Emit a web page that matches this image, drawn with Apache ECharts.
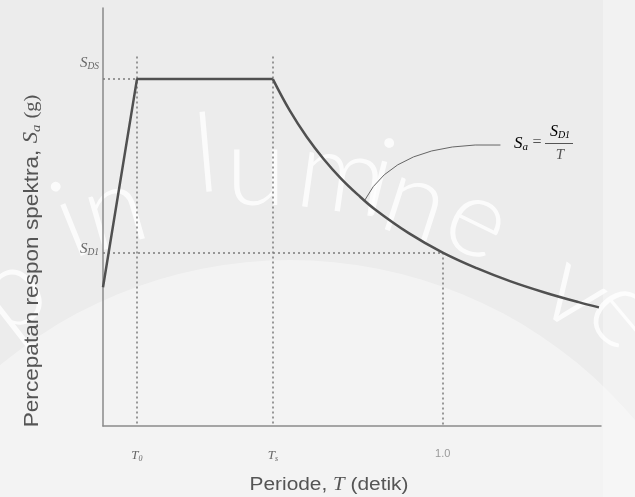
<!DOCTYPE html>
<html><head><meta charset="utf-8">
<script src="https://cdn.jsdelivr.net/npm/echarts@6/dist/echarts.min.js"></script>
<style>html,body{margin:0;padding:0;background:#ededed}#c{width:635px;height:497px}</style>
</head><body><div id="c"></div>
<script>
// ---- data ----
const rampT   = [0, 0.1, 0.5];
const rampSa  = [0.4, 1.0, 1.0];
const decayT  = [0.5, 0.55, 0.6, 0.65, 0.7, 0.75, 0.8, 0.9, 1.0, 1.1, 1.2, 1.3, 1.4, 1.46];
const decaySa = [1.0, 0.909, 0.833, 0.769, 0.714, 0.667, 0.625, 0.556, 0.5, 0.455, 0.417, 0.385, 0.357, 0.342];
const xTickValues = [0.1, 0.5, 1.0];
const xTickLabels = ['{t|T}{s|0}', '{t|T}{s|s}', '{n|1.0}'];
const yTickValues = [0.5, 1.0];
const yTickLabels = ['{S|S}{d|D1}\n{g1| }', '{S|S}{d|DS}\n{g2| }'];
const SDS = 1.0, SD1 = 0.5, T0 = 0.1, Ts = 0.5, T1 = 1.0;
const guideTop = 1.065;
const leaderFrom = [0.77, 0.65];
const leaderTo = [1.17, 0.81];
// watermark letters (decoration)
const wmLetters = ['p', 'i', 'n', 'l', 'u', 'm', 'i', 'n', 'e', 'v', 'e'];
const wmX   = [10, 70, 114, 206, 256, 342, 380, 416, 478, 576, 626];
const wmY   = [292, 222, 210, 156, 170, 176, 180, 202, 220, 292, 312];
const wmRot = [38, 22, 16, 5, 0, -8, -14, -18, -26, -36, -50];

const chart = echarts.init(document.getElementById('c'), null, {renderer:'canvas'});
const grey = '#505050';
const zip = (a, b) => a.map((v, i) => [v, b[i]]);
const serif = '"Liberation Serif", "DejaVu Serif", serif';

chart.setOption({
  backgroundColor: '#ececec',
  animation: false,
  grid: {left: 103, top: 8, right: 34, bottom: 71, containLabel: false},
  xAxis: {
    type: 'value', min: 0, max: 1.466,
    splitLine: {show: false},
    axisLine: {show: true, lineStyle: {color: '#8a8a8a', width: 1.5}},
    axisTick: {show: false},
    axisLabel: {
      customValues: xTickValues,
      margin: 22,
      formatter: v => xTickLabels[xTickValues.findIndex(x => Math.abs(x - v) < 1e-6)] || '',
      rich: {
        t: {fontFamily: serif, fontStyle: 'italic', fontSize: 13, color: '#666'},
        s: {fontFamily: serif, fontStyle: 'italic', fontSize: 8, color: '#666', verticalAlign: 'bottom', padding: [7, 0, 0, 0]},
        n: {fontFamily: '"Liberation Sans Narrow", "Liberation Sans", sans-serif', fontSize: 11, color: '#999'}
      }
    }
  },
  yAxis: {
    type: 'value', min: 0, max: 1.205,
    splitLine: {show: false},
    axisLine: {show: true, lineStyle: {color: '#8a8a8a', width: 1.5}},
    axisTick: {show: false},
    axisLabel: {
      customValues: yTickValues,
      margin: 4,
      formatter: v => yTickLabels[yTickValues.findIndex(x => Math.abs(x - v) < 1e-6)] || '',
      rich: {
        S: {fontFamily: serif, fontStyle: 'italic', fontSize: 15, color: '#666'},
        d: {fontFamily: serif, fontStyle: 'italic', fontSize: 9.5, color: '#666', verticalAlign: 'bottom', padding: [6, 0, 0, 0]},
        g1: {fontSize: 4, lineHeight: 6},
        g2: {fontSize: 4, lineHeight: 32}
      }
    }
  },
  series: [
    {
      type: 'line', data: zip(rampT, rampSa), symbol: 'none',
      lineStyle: {color: grey, width: 2.5}, z: 5,
      markLine: {
        silent: true, symbol: ['none', 'none'], label: {show: false},
        lineStyle: {color: '#7a7a7a', width: 1.5, type: [2, 3]},
        data: [
          [{coord: [0, SDS]}, {coord: [T0, SDS]}],
          [{coord: [0, SD1]}, {coord: [T1, SD1]}],
          [{coord: [T0, guideTop]}, {coord: [T0, 0]}],
          [{coord: [Ts, guideTop]}, {coord: [Ts, 0]}],
          [{coord: [T1, SD1]}, {coord: [T1, 0]}]
        ]
      }
    },
    {
      type: 'line', data: zip(decayT, decaySa), symbol: 'none', smooth: 0.4,
      lineStyle: {color: grey, width: 2.5}, z: 5
    }
  ]
});

const p0 = chart.convertToPixel({gridIndex: 0}, leaderFrom);
const p1 = chart.convertToPixel({gridIndex: 0}, leaderTo);

const wm = [
  {type: 'circle', silent: true, z: -20, shape: {cx: 290, cy: 712, r: 452}, style: {fill: 'rgba(255,255,255,0.38)'}},
  {type: 'rect', silent: true, z: -20, shape: {x: 603, y: 0, width: 40, height: 497}, style: {fill: 'rgba(255,255,255,0.3)'}}
].concat(wmLetters.map((ch, i) => ({
  type: 'text', silent: true, z: -10, x: wmX[i], y: wmY[i], rotation: wmRot[i] * Math.PI / 180,
  style: {text: ch, align: 'center', verticalAlign: 'middle', font: '300 110px Lato, "Open Sans", sans-serif', fill: 'rgba(255,255,255,0.8)'}
})));

chart.setOption({
  graphic: wm.concat([
    {
      type: 'bezierCurve', silent: true,
      shape: {x1: p0[0], y1: p0[1], x2: p1[0], y2: p1[1], cpx1: p0[0] + 30, cpy1: p1[1] - 4},
      style: {stroke: '#666', lineWidth: 1, fill: null}
    },
    {
      type: 'text', x: 329, y: 485, scaleX: 1.16,
      style: {
        text: 'Periode, {i|T} (detik)', align: 'center', verticalAlign: 'middle',
        font: '18px "Liberation Sans", Arial, sans-serif', fill: '#555',
        rich: {i: {fontFamily: serif, fontStyle: 'italic', fontSize: 18, color: '#555'}}
      }
    },
    {
      type: 'text', x: 32, y: 261, rotation: Math.PI / 2, scaleX: 1.13,
      style: {
        text: 'Percepatan respon spektra, {i|S}{sub|a} {r|(g)}', align: 'center', verticalAlign: 'middle',
        font: '20px "Liberation Sans", Arial, sans-serif', fill: '#555',
        rich: {
          i: {fontFamily: serif, fontStyle: 'italic', fontSize: 20, color: '#555'},
          sub: {fontFamily: serif, fontStyle: 'italic', fontSize: 13, color: '#555', verticalAlign: 'bottom', padding: [9, 0, 0, 0]},
          r: {fontFamily: serif, fontSize: 18, color: '#555'}
        }
      }
    },
    // formula  S_a = S_D1 / T
    {type: 'text', x: 521, y: 144, style: {text: '{S|S}{d|a}', align: 'center', verticalAlign: 'middle',
      rich: {S: {fontFamily: serif, fontStyle: 'italic', fontSize: 17, color: '#555'},
             d: {fontFamily: serif, fontStyle: 'italic', fontSize: 11, color: '#555', verticalAlign: 'bottom', padding: [7, 0, 0, 0]}}}},
    {type: 'text', x: 537, y: 143, style: {text: '=', align: 'center', verticalAlign: 'middle', font: '16px ' + serif, fill: '#555'}},
    {type: 'line', shape: {x1: 545, y1: 143.5, x2: 573, y2: 143.5}, style: {stroke: '#555', lineWidth: 1}},
    {type: 'text', x: 560, y: 132, style: {text: '{S|S}{d|D1}', align: 'center', verticalAlign: 'middle',
      rich: {S: {fontFamily: serif, fontStyle: 'italic', fontSize: 16, color: '#555'},
             d: {fontFamily: serif, fontStyle: 'italic', fontSize: 10, color: '#555', verticalAlign: 'bottom', padding: [6, 0, 0, 0]}}}},
    {type: 'text', x: 560, y: 155, style: {text: 'T', align: 'center', verticalAlign: 'middle', font: 'italic 15px ' + serif, fill: '#555'}}
  ])
});
</script></body></html>
